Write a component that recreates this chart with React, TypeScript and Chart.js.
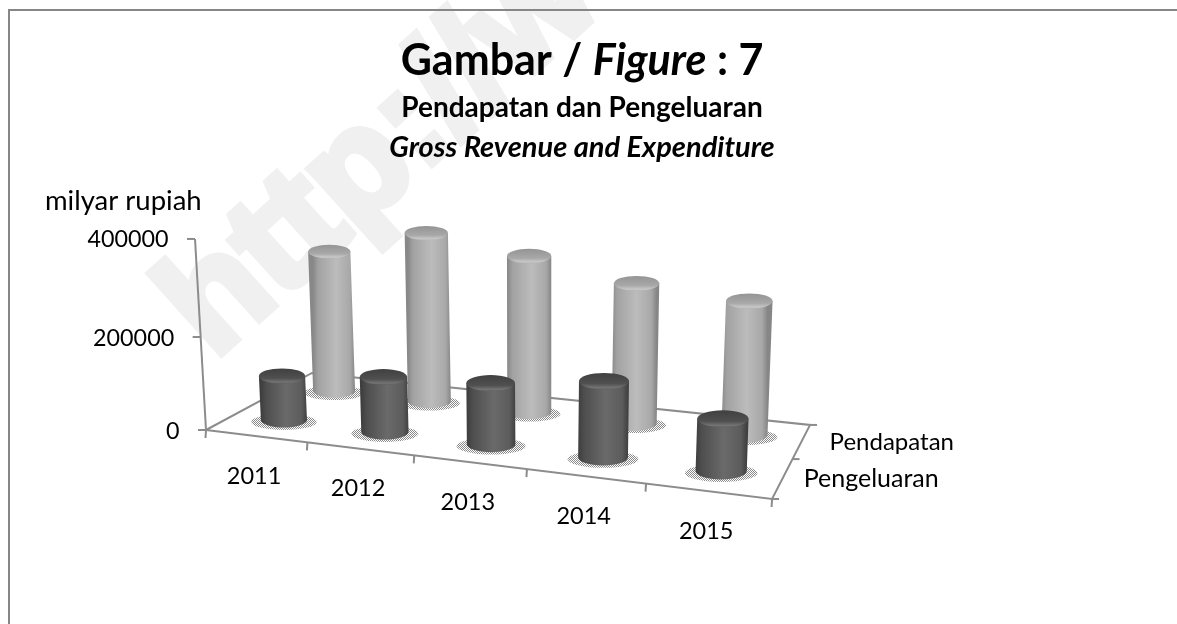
import React, { useEffect, useRef } from "react";
import { Chart, registerables } from "chart.js";

Chart.register(...registerables);

const categories = ["2011", "2012", "2013", "2014", "2015"];
const pengeluaran = [98000, 119000, 129000, 156000, 105000];
const pendapatan = [323000, 378000, 344000, 303000, 284000];
const yTicks = [0, 200000, 400000];
const UI = "Lato, Carlito, Calibri, sans-serif";

const W = 1177;
const H = 624;

// floor homography: unit square (u along the years, v into the depth) to the page
const G = -0.127;
const HH = 0.1462;
const project = (u: number, v: number) => {
  const w = 1 + G * u + HH * v;
  return {
    x: (206 + 468 * u + 151.6 * v) / w,
    y: (430 + 5.6 * u - 2.5 * v) / w,
    w,
  };
};
const VP = { x: 535, y: 6150 };
const raise = (p: { x: number; y: number; w: number }, z: number) => {
  const h = (181.3 * z) / (1 - 0.051 * z) / p.w;
  const t = h / (VP.y - p.y);
  return { x: p.x + (p.x - VP.x) * t, y: p.y - h };
};

const makeStipple = (ctx: CanvasRenderingContext2D) => {
  const c = document.createElement("canvas");
  c.width = 2;
  c.height = 2;
  const g = c.getContext("2d")!;
  g.fillStyle = "#8a8a8a";
  g.fillRect(0, 0, 1, 1);
  g.fillRect(1, 1, 1, 1);
  return ctx.createPattern(c, "repeat")!;
};

const drawCylinder = (
  ctx: CanvasRenderingContext2D,
  base: { x: number; y: number; w: number },
  top: { x: number; y: number },
  dark: boolean,
) => {
  const rx = (dark ? 23.6 : 23) / base.w;
  const ry = rx * 0.33;
  const rxT = rx * (1 + (base.y - top.y) * 0.00005);

  // stippled floor shadow
  ctx.save();
  ctx.beginPath();
  ctx.ellipse(base.x, base.y + 2, rx * 1.42, ry * 1.05, 0, 0, Math.PI * 2);
  ctx.fillStyle = makeStipple(ctx);
  ctx.fill();
  ctx.restore();

  const stops = dark
    ? ["#3e3e3e", "#4e4e4e", "#6a6a6a", "#5c5c5c", "#404040"]
    : ["#888888", "#a2a2a2", "#bcbcbc", "#a8a8a8", "#868686"];
  const grad = ctx.createLinearGradient(base.x - rx, 0, base.x + rx, 0);
  grad.addColorStop(0, stops[0]);
  grad.addColorStop(0.12, stops[1]);
  grad.addColorStop(0.55, stops[2]);
  grad.addColorStop(0.88, stops[3]);
  grad.addColorStop(1, stops[4]);

  ctx.beginPath();
  ctx.moveTo(top.x - rxT, top.y);
  ctx.lineTo(base.x - rx, base.y);
  ctx.ellipse(base.x, base.y, rx, ry, 0, Math.PI, 0, true);
  ctx.lineTo(top.x + rxT, top.y);
  ctx.closePath();
  ctx.fillStyle = grad;
  ctx.fill();

  // cap
  const capGrad = ctx.createLinearGradient(0, top.y - ry, 0, top.y + ry);
  if (dark) {
    capGrad.addColorStop(0, "#404040");
    capGrad.addColorStop(0.65, "#505050");
    capGrad.addColorStop(0.9, "#747474");
    capGrad.addColorStop(1, "#606060");
  } else {
    capGrad.addColorStop(0, "#949494");
    capGrad.addColorStop(0.65, "#a8a8a8");
    capGrad.addColorStop(0.9, "#c8c8c8");
    capGrad.addColorStop(1, "#b4b4b4");
  }
  ctx.beginPath();
  ctx.ellipse(top.x, top.y, rxT, ry, 0, 0, Math.PI * 2);
  ctx.fillStyle = capGrad;
  ctx.fill();
};

const segLine = (
  ctx: CanvasRenderingContext2D,
  a: { x: number; y: number },
  b: { x: number; y: number },
) => {
  ctx.beginPath();
  ctx.moveTo(a.x, a.y);
  ctx.lineTo(b.x, b.y);
  ctx.stroke();
};

const text3d = {
  id: "text3d",
  beforeDraw(chart: any) {
    const ctx: CanvasRenderingContext2D = chart.ctx;
    ctx.save();
    ctx.fillStyle = "#fff";
    ctx.fillRect(0, 0, W, H);
    // watermark
    ctx.translate(214, 360);
    ctx.rotate((-42 * Math.PI) / 180);
    ctx.font = "bold 148px 'Liberation Sans', sans-serif";
    ctx.fillStyle = "#f0f0f0";
    ctx.strokeStyle = "#f0f0f0";
    ctx.lineWidth = 8;
    ctx.lineJoin = "miter";
    ctx.textBaseline = "alphabetic";
    ctx.fillText("http://www.", 0, 0);
    ctx.strokeText("http://www.", 0, 0);
    ctx.restore();
    // frame: top and left only reach the page edges
    ctx.save();
    ctx.strokeStyle = "#868686";
    ctx.lineWidth = 2;
    ctx.beginPath();
    ctx.moveTo(9, H);
    ctx.lineTo(9, 10);
    ctx.lineTo(W, 10);
    ctx.stroke();
    ctx.restore();
  },
  beforeDatasetsDraw(chart: any) {
    const ctx: CanvasRenderingContext2D = chart.ctx;
    const yScale = chart.scales.y;
    const area = chart.chartArea;
    ctx.save();
    ctx.strokeStyle = "#8c8c8c";
    ctx.lineWidth = 2;
    const p00 = project(0, 0);
    const p10 = project(1, 0);
    const p11 = project(1, 1);
    const p01 = project(0, 1);
    ctx.beginPath();
    ctx.moveTo(p00.x, p00.y);
    ctx.lineTo(p10.x, p10.y);
    ctx.lineTo(p11.x, p11.y);
    ctx.lineTo(p01.x, p01.y);
    ctx.closePath();
    ctx.stroke();
    // category ticks on the front edge
    for (let i = 0; i <= categories.length; i++) {
      const p = project(i / categories.length, 0);
      segLine(ctx, p, { x: p.x - 0.5, y: p.y + 8 });
    }
    // depth ticks on the right edge
    [0, 0.5, 1].forEach((v) => {
      const p = project(1, v);
      segLine(ctx, p, { x: p.x + 7, y: p.y });
    });
    // value axis, tilted, with its labels following the tilt
    const top = (value: number) =>
      raise(p00, (area.bottom - yScale.getPixelForValue(value)) / area.height);
    segLine(ctx, p00, top(yScale.max));
    ctx.font = `23.3px ${UI}`;
    ctx.textAlign = "right";
    ctx.textBaseline = "middle";
    yTicks.forEach((t) => {
      const p = top(t);
      segLine(ctx, p, { x: p.x - 8, y: p.y });
      ctx.fillStyle = "#000";
      ctx.fillText(String(t), p.x - 26.5, p.y + 1);
    });
    ctx.restore();
  },
  afterDatasetsDraw(chart: any) {
    const ctx: CanvasRenderingContext2D = chart.ctx;
    const area = chart.chartArea;
    const xScale = chart.scales.x;
    const rows = [
      { index: 1, v: 0.75, dark: false },
      { index: 0, v: 0.25, dark: true },
    ];
    rows.forEach(({ index, v, dark }) => {
      chart.getDatasetMeta(index).data.forEach((el: any) => {
        const u = (el.x - area.left) / area.width;
        const z = (area.bottom - el.y) / area.height;
        const base = project(u, v);
        drawCylinder(ctx, base, raise(base, z), dark);
      });
    });

    ctx.save();
    ctx.fillStyle = "#000";
    ctx.textBaseline = "alphabetic";

    // category labels
    ctx.font = `23.5px ${UI}`;
    ctx.textAlign = "center";
    ctx.textBaseline = "middle";
    categories.forEach((_, i) => {
      const p = project((xScale.getPixelForValue(i) - area.left) / area.width, 0);
      ctx.fillText(xScale.getLabelForValue(i), p.x - 2, p.y + 40);
    });

    // depth labels
    ctx.textAlign = "left";
    rows.forEach(({ index, v, dark }) => {
      const p = project(1, v);
      ctx.font = `${dark ? 25 : 24}px ${UI}`;
      ctx.fillText(chart.data.datasets[index].label, p.x + (dark ? 21 : 28), p.y + 1);
    });

    // axis caption
    ctx.textBaseline = "alphabetic";
    ctx.font = `27.5px ${UI}`;
    ctx.fillText("milyar rupiah", 45, 210);

    // titles
    const cx = 582;
    const parts: [string, string][] = [
      ["Gambar / ", `bold 43px ${UI}`],
      ["Figure", `italic bold 43px ${UI}`],
      [" : 7", `bold 43px ${UI}`],
    ];
    let total = 0;
    parts.forEach(([t, f]) => {
      ctx.font = f;
      total += ctx.measureText(t).width;
    });
    let x = cx - total / 2;
    parts.forEach(([t, f]) => {
      ctx.font = f;
      ctx.fillText(t, x, 75);
      x += ctx.measureText(t).width;
    });
    ctx.textAlign = "center";
    ctx.font = `bold 28px ${UI}`;
    ctx.fillText("Pendapatan dan Pengeluaran", cx, 117);
    ctx.font = `italic bold 29px ${UI}`;
    ctx.fillText("Gross Revenue and Expenditure", cx, 157);
    ctx.restore();
  },
};

export default function App() {
  const ref = useRef<HTMLCanvasElement>(null);
  useEffect(() => {
    const chart = new Chart(ref.current!, {
      type: "bar",
      data: {
        labels: categories,
        datasets: [
          { label: "Pengeluaran", data: pengeluaran, backgroundColor: "transparent", grouped: false },
          { label: "Pendapatan", data: pendapatan, backgroundColor: "transparent", grouped: false },
        ],
      },
      options: {
        responsive: false,
        animation: false,
        layout: { padding: { left: 180, right: 177, top: 240, bottom: 193 } },
        plugins: { legend: { display: false }, title: { display: false }, tooltip: { enabled: false } },
        scales: {
          x: { display: false, offset: true },
          y: { display: false, min: 0, max: 400000 },
        },
      } as any,
      plugins: [text3d],
    });
    return () => chart.destroy();
  }, []);
  return (
    <div style={{ position: "absolute", left: 0, top: 0, width: W, height: H }}>
      <canvas ref={ref} width={W} height={H} style={{ display: "block" }} />
    </div>
  );
}
